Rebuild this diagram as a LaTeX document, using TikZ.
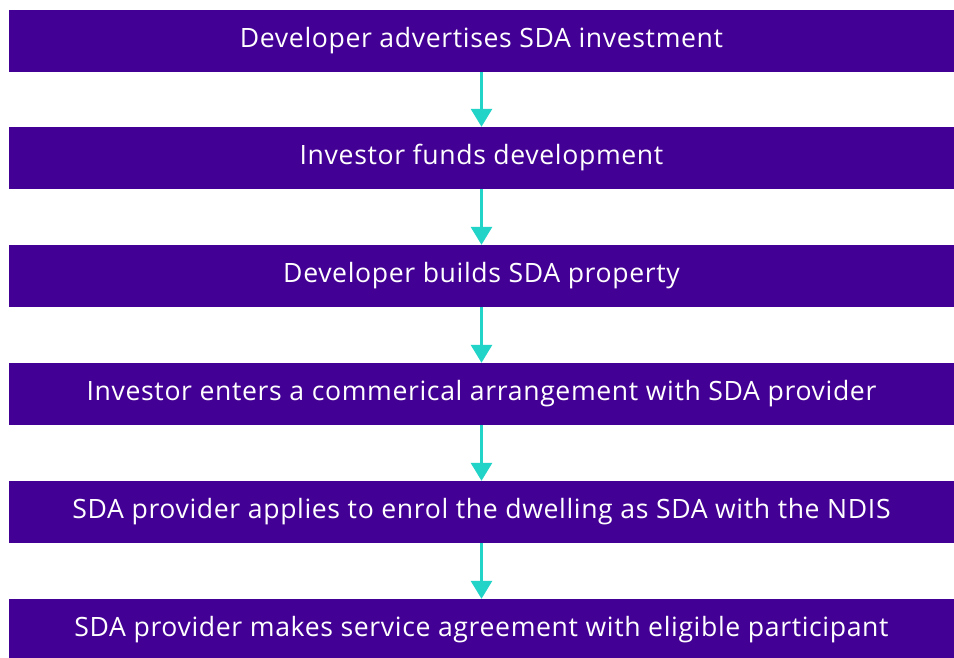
\documentclass[tikz,border=0pt]{standalone}
\usepackage{fontspec}
\setmainfont{Open Sans}
\newfontfamily\stepfont[LetterSpace=2.4]{Open Sans}
\usetikzlibrary{arrows.meta}
\definecolor{stepfill}{HTML}{430094}
\definecolor{flowteal}{HTML}{22D3C8}
\tikzset{
  stepbox/.style={rectangle, fill=stepfill, text=white, draw=none,
    minimum width=945pt, minimum height=62pt, inner sep=0pt,
    font=\stepfont\fontsize{26.6}{30}\selectfont},
  flow/.style={draw=flowteal, line width=3pt,
    -{Triangle[width=21pt,length=18pt]}, shorten >=0pt}
}
\begin{document}
\begin{tikzpicture}[x=1pt,y=-1pt]
  \clip (0,0) rectangle (954,657);
  \fill[white] (0,0) rectangle (954,657);
  \node[stepbox] (s1) at (481.5,41)  {Developer advertises SDA investment};
  \node[stepbox] (s2) at (481.5,158) {Investor funds development};
  \node[stepbox] (s3) at (481.5,276) {Developer builds SDA property};
  \node[stepbox] (s4) at (481.5,394) {Investor enters a commerical arrangement with SDA provider};
  \node[stepbox] (s5) at (481.5,512) {SDA provider applies to enrol the dwelling as SDA with the NDIS};
  \node[stepbox] (s6) at (481.5,630) {SDA provider makes service agreement with eligible participant};
  \draw[flow] (s1.south) -- (s2.north);
  \draw[flow] (s2.south) -- (s3.north);
  \draw[flow] (s3.south) -- (s4.north);
  \draw[flow] (s4.south) -- (s5.north);
  \draw[flow] (s5.south) -- (s6.north);
\end{tikzpicture}
\end{document}
